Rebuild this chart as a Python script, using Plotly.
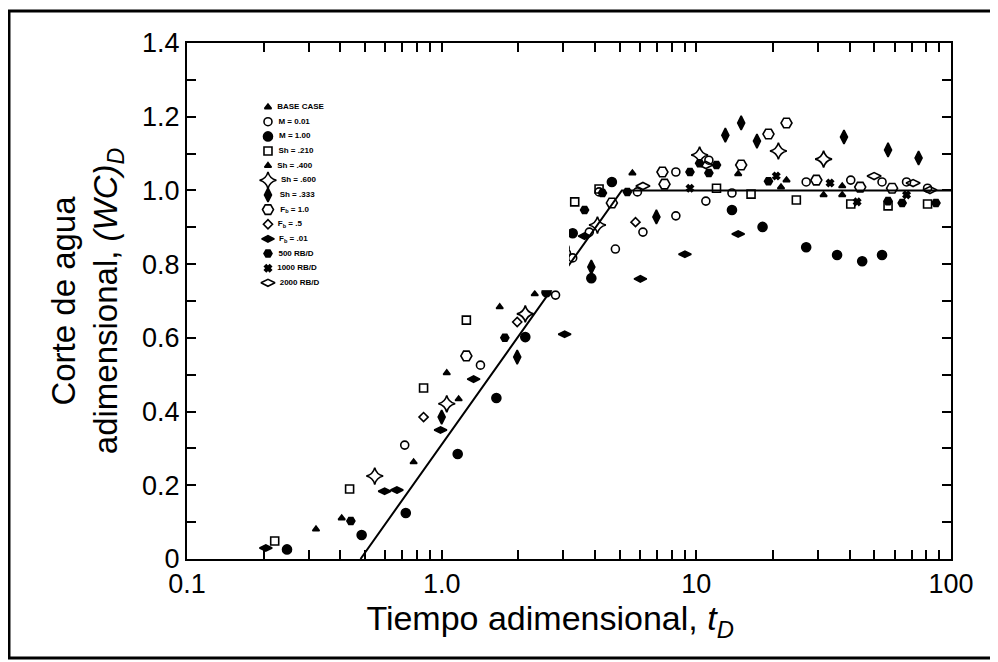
import plotly.graph_objects as go

# ---------------- data ----------------
series_names = ["BASE CASE", "M = 0.01", "M = 1.00", "Sh = .210", "Sh = .400", "Sh = .600",
                "Sh = .333", "F<sub>b</sub> = 1.0", "F<sub>b</sub> = .5", "F<sub>b</sub> = .01",
                "500 RB/D", "1000 RB/D", "2000 RB/D"]

s1_x = [0.321, 0.776, 1.047, 1.166, 1.69, 2.51, 5.61, 14.6, 22.6, 37.4]
s1_y = [0.081, 0.263, 0.505, 0.434, 0.684, 0.844, 1.047, 1.045, 1.028, 0.988]

s2_x = [0.716, 1.42, 2.80, 3.09, 3.27, 3.80, 4.81, 6.17, 8.31, 5.87, 8.31, 10.9, 13.8, 27.0, 40.4, 53.6, 66.9, 80.9, 11.2, 4.15]
s2_y = [0.309, 0.526, 0.716, 0.830, 0.817, 0.887, 0.841, 0.887, 0.931, 0.996, 1.050, 0.971, 0.993, 1.023, 1.028, 1.023, 1.023, 1.006, 1.082, 0.996]

s3_x = [0.247, 0.485, 0.723, 1.156, 1.64, 2.13, 2.58, 3.04, 3.27, 3.87, 4.66, 13.8, 18.2, 27.0, 35.7, 44.8, 53.6]
s3_y = [0.026, 0.065, 0.125, 0.285, 0.437, 0.602, 0.724, 0.844, 0.884, 0.762, 1.023, 0.947, 0.901, 0.846, 0.825, 0.808, 0.825]

s4_x = [0.221, 0.435, 0.849, 1.25, 1.91, 3.33, 4.15, 12.0, 16.4, 24.7, 40.4, 56.6, 80.9]
s4_y = [0.049, 0.190, 0.464, 0.648, 0.808, 0.969, 1.004, 1.006, 0.990, 0.974, 0.963, 0.958, 0.963]

s5_x = [0.405, 2.32, 2.70, 21.5, 31.6, 37.4]
s5_y = [0.111, 0.719, 0.789, 1.009, 0.988, 1.012]

s6_x = [0.546, 1.047, 2.13, 4.09, 10.3, 21.0, 31.6]
s6_y = [0.225, 0.421, 0.665, 0.906, 1.096, 1.107, 1.085]

s7_x = [1.0, 1.98, 3.87, 6.97, 13.0, 15.0, 17.3, 38.0, 56.6, 74.6]
s7_y = [0.385, 0.548, 0.792, 0.928, 1.150, 1.183, 1.134, 1.145, 1.110, 1.088]

s8_x = [1.25, 4.66, 7.36, 7.50, 15.0, 19.2, 22.6, 29.6, 44.0, 58.7]
s8_y = [0.551, 0.966, 1.050, 1.017, 1.069, 1.153, 1.183, 1.028, 1.009, 1.006]

s9_x = [0.849, 1.98, 2.93, 5.77]
s9_y = [0.385, 0.643, 0.817, 0.914]

s10_x = [0.204, 0.597, 0.667, 0.99, 1.335, 3.04, 6.03, 9.02, 14.6, 3.64]
s10_y = [0.030, 0.184, 0.187, 0.350, 0.488, 0.610, 0.760, 0.827, 0.882, 0.876]

s11_x = [0.440, 1.77, 3.64, 5.36, 9.44, 12.0, 11.2, 19.2, 56.6, 64.3, 87.3, 10.3, 4.28]
s11_y = [0.103, 0.600, 0.947, 0.996, 1.050, 1.069, 1.047, 1.025, 0.971, 0.966, 0.966, 1.074, 0.993]

s12_x = [20.6, 33.5, 66.9, 42.8, 9.44]
s12_y = [1.039, 1.020, 0.988, 0.969, 1.006]

s13_x = [6.17, 10.9, 49.9, 71.0, 82.7]
s13_y = [1.012, 1.069, 1.039, 1.020, 1.001]

line_x = [0.48, 5.1, 100]
line_y = [0.0, 1.0, 1.0]

x_tick_labels = ["0.1", "1.0", "10", "100"]
x_decades = [0.1, 1, 10, 100]
y_tick_labels = ["0", "0.2", "0.4", "0.6", "0.8", "1.0", "1.2", "1.4"]

series_x = [s1_x, s2_x, s3_x, s4_x, s5_x, s6_x, s7_x, s8_x, s9_x, s10_x, s11_x, s12_x, s13_x]
series_y = [s1_y, s2_y, s3_y, s4_y, s5_y, s6_y, s7_y, s8_y, s9_y, s10_y, s11_y, s12_y, s13_y]

# ---------------- styles ----------------
symbols = ["triangle-up", "circle-open", "circle", "square-open", "triangle-up", "star-diamond-open",
           "diamond-tall", "hexagon2-open", "diamond-open", "diamond-wide", "hexagon2", "x",
           "diamond-wide-open"]
sizes = [6, 8, 9, 8, 6, 12, 10, 11, 7, 9, 8, 6, 10]

FONT = "Liberation Sans, Arial, sans-serif"

fig = go.Figure()

fig.add_trace(go.Scatter(x=line_x, y=line_y, mode="lines",
                         line=dict(color="black", width=2), showlegend=False, hoverinfo="skip"))

for i, name in enumerate(series_names):
    mk = dict(symbol=symbols[i], size=sizes[i], color="black",
              line=dict(color="black", width=1.6))
    fig.add_trace(go.Scatter(x=series_x[i], y=series_y[i], mode="markers", name=name,
                             marker=mk, showlegend=False, cliponaxis=False))
    # key drawn in a small overlay axis pair
    fig.add_trace(go.Scatter(x=[0], y=[name], mode="markers+text", xaxis="x2", yaxis="y2",
                             text=["&nbsp;&nbsp;" + name], textposition="middle right",
                             textfont=dict(family=FONT, size=8, color="black", weight="bold"),
                             marker=mk, showlegend=False, cliponaxis=False, hoverinfo="skip"))

# tick positions on the log axis: decades plus 2..9 within each decade
x_tickvals, x_ticktext = [], []
for d, lab in zip(x_decades, x_tick_labels):
    x_tickvals.append(d)
    x_ticktext.append(lab)
    if d < 100:
        for k in range(2, 10):
            x_tickvals.append(d * k)
            x_ticktext.append("")

y_tickvals, y_ticktext = [], []
for i in range(15):
    v = round(i * 0.1, 1)
    y_tickvals.append(v)
    y_ticktext.append(y_tick_labels[i // 2] if i % 2 == 0 else "")

fig.update_layout(
    width=990, height=654,
    margin=dict(l=179, r=47, t=35, b=103),
    paper_bgcolor="white", plot_bgcolor="white",
    font=dict(family=FONT, color="black"),
    showlegend=False,
    xaxis=dict(type="log", range=[-1, 2], tickmode="array", tickvals=x_tickvals, ticktext=x_ticktext,
               ticks="inside", ticklen=9, tickwidth=1.5, tickcolor="black",
               showline=True, linecolor="black", linewidth=2, mirror="ticks",
               showgrid=False, zeroline=False,
               tickfont=dict(size=27, family=FONT, color="black"),
               title=dict(text="Tiempo adimensional, <i>t</i><sub><i>D</i></sub>&nbsp;&nbsp;&nbsp;&nbsp;",
                          font=dict(size=34, family=FONT, color="black"), standoff=0)),
    yaxis=dict(range=[0, 1.4], tickmode="array", tickvals=y_tickvals, ticktext=y_ticktext,
               ticks="inside", ticklen=9, tickwidth=1.5, tickcolor="black",
               showline=True, linecolor="black", linewidth=2, mirror="ticks",
               showgrid=False, zeroline=False,
               tickfont=dict(size=27, family=FONT, color="black"),
               title=dict(text="Corte de agua<br>adimensional, <i>(WC)</i><sub><i>D</i></sub>",
                          font=dict(size=33, family=FONT, color="black"), standoff=14)),
    xaxis2=dict(domain=[0.106, 0.5], range=[0, 1], anchor="y2", visible=False, fixedrange=True),
    yaxis2=dict(domain=[0.521, 0.890], type="category", categoryorder="array",
                categoryarray=series_names, range=[12.5, -0.5], anchor="x2", visible=False,
                fixedrange=True),
    shapes=[dict(type="rect", xref="paper", yref="paper", x0=-0.233, x1=1.08, y0=-0.192, y1=1.062,
                 line=dict(color="black", width=3), fillcolor="rgba(0,0,0,0)", layer="below")],
)

fig.write_html("out.html")
